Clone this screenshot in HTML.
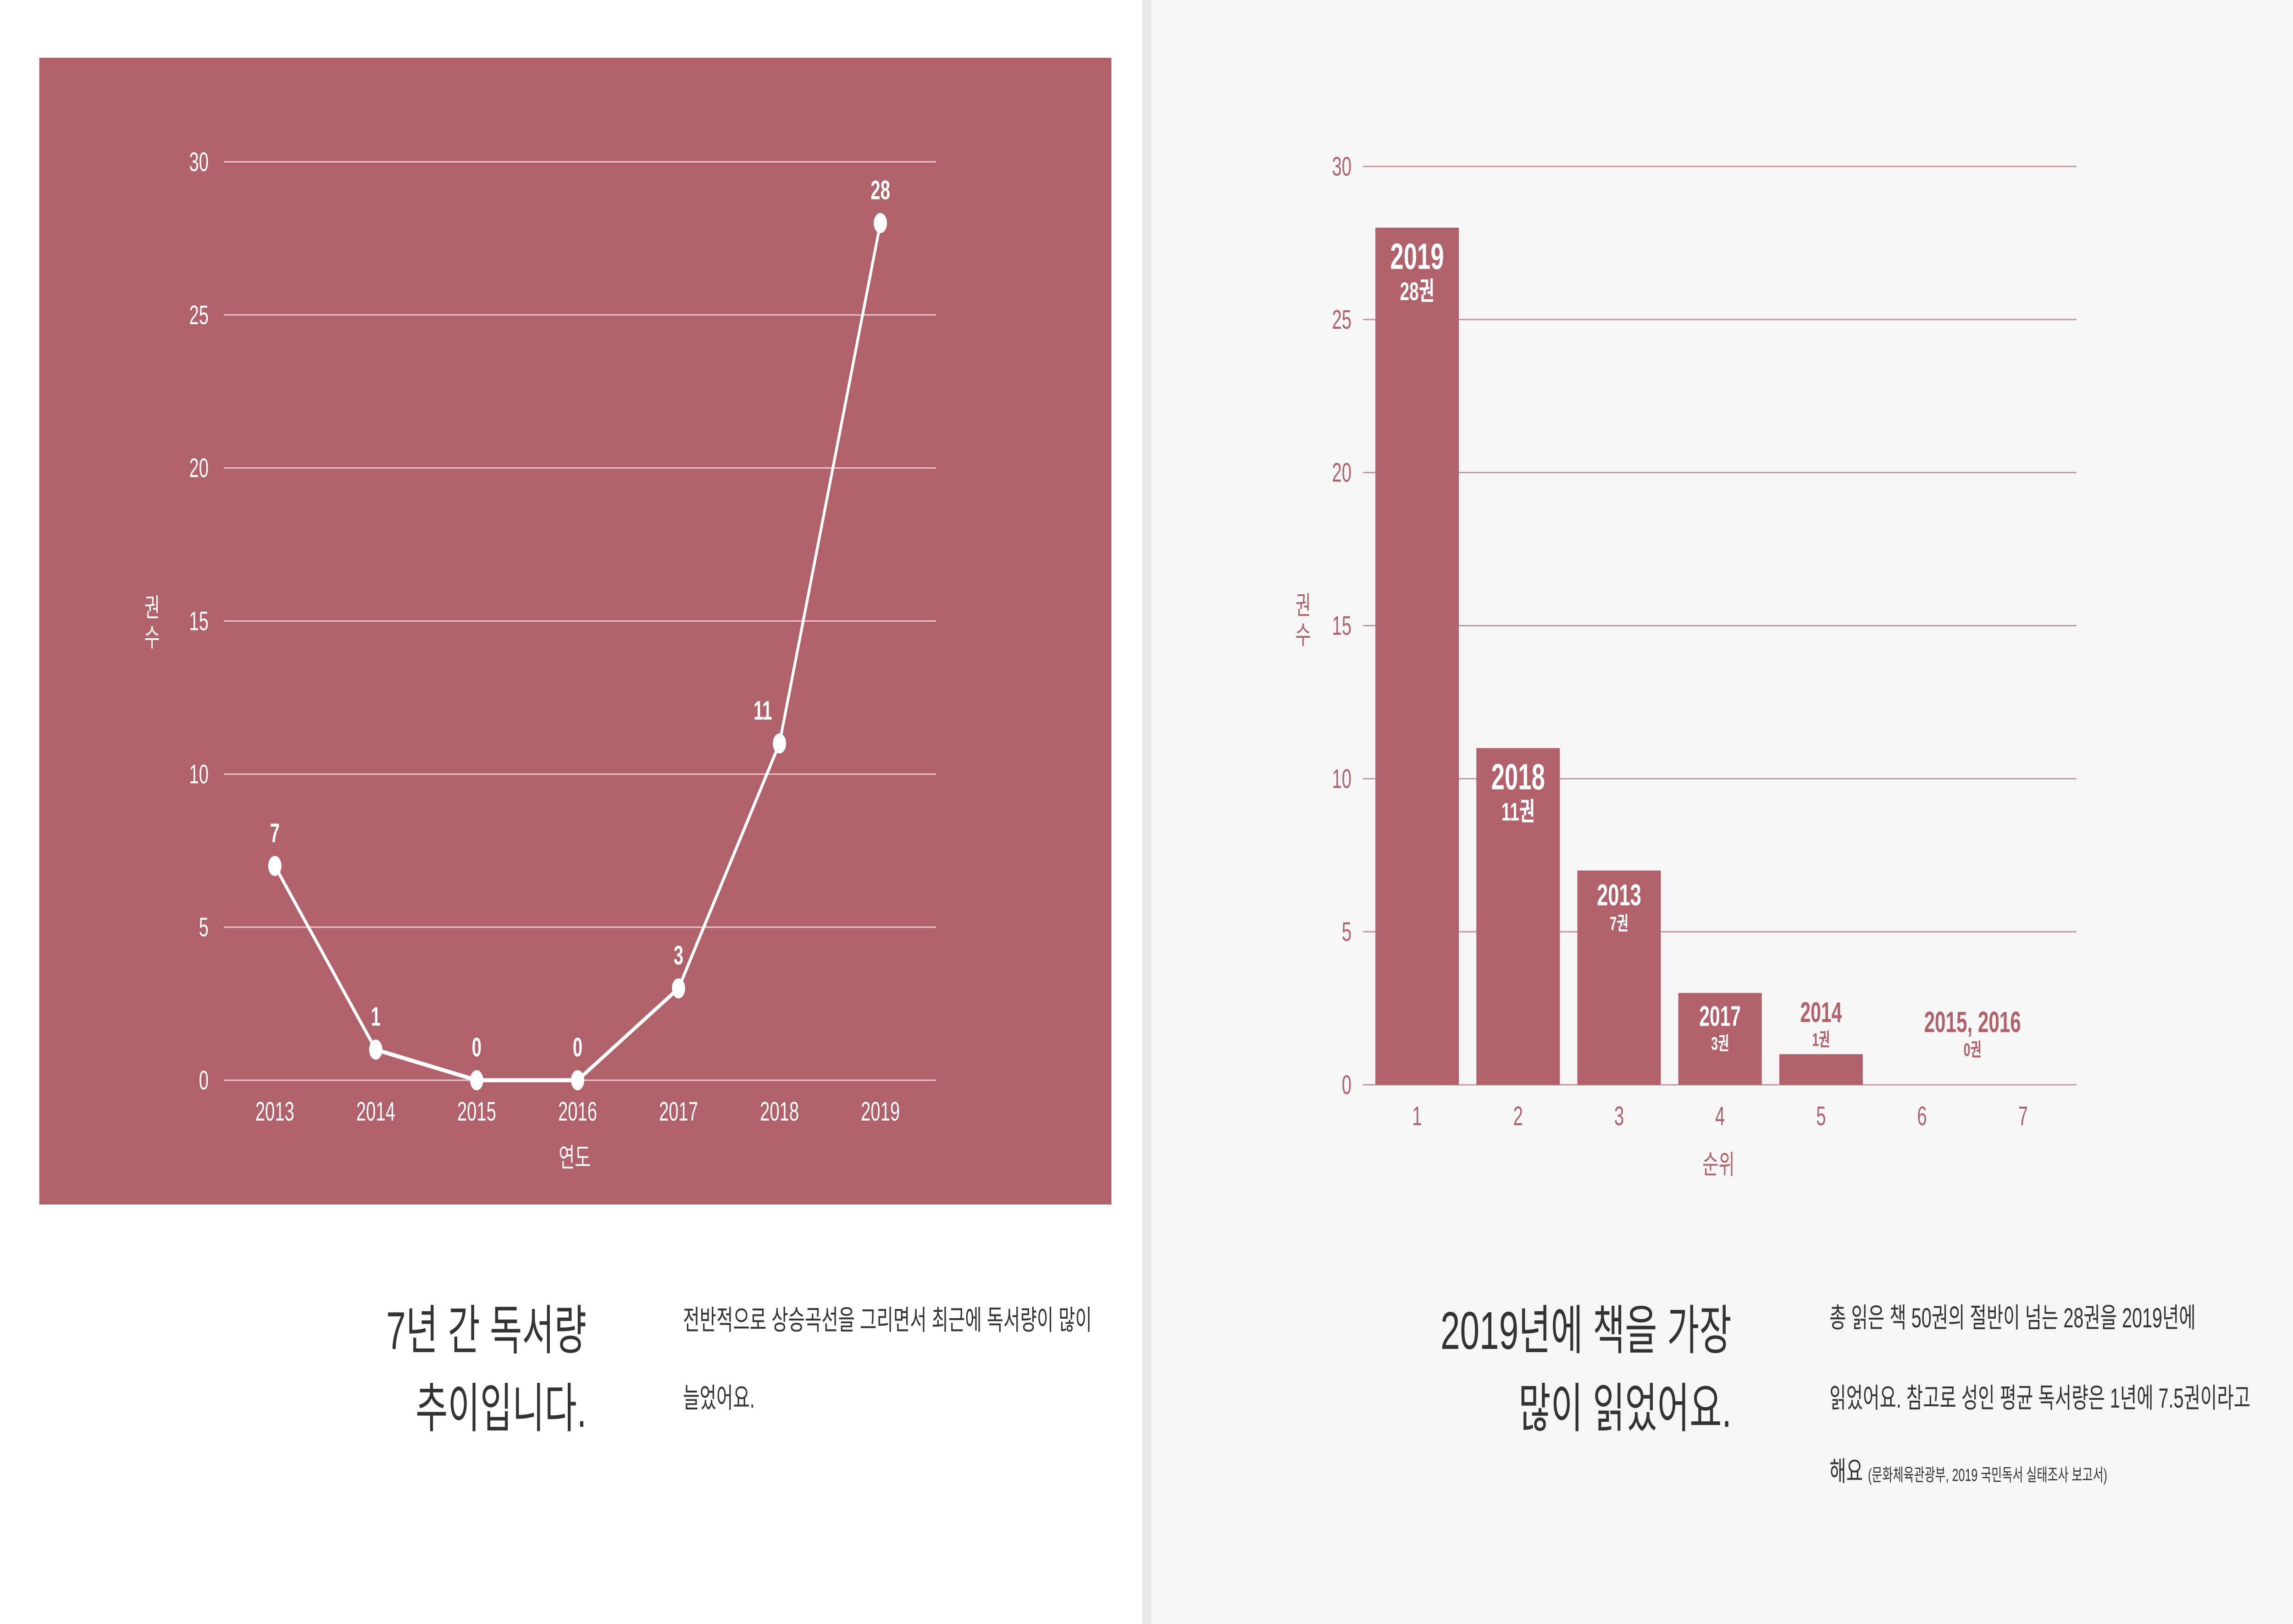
<!DOCTYPE html>
<html><head><meta charset="utf-8"><style>
html,body{margin:0;padding:0;width:100%;height:100%;overflow:hidden;background:#fff}
svg{display:block;width:100vw;height:100vh}
text{font-family:"Liberation Sans","Noto Sans CJK KR",sans-serif}
</style></head><body>
<svg id="s" viewBox="0 0 7584 3542" preserveAspectRatio="none" xmlns="http://www.w3.org/2000/svg">
<rect x="0" y="0" width="3778" height="3542" fill="#ffffff"/>
<rect x="3778" y="0" width="30" height="3542" fill="#e8e8e8"/>
<rect x="3808" y="0" width="3776" height="3542" fill="#f6f6f6"/>
<rect x="130" y="126" width="3546" height="2501" fill="#b0616a"/>
<g id="lc"></g>
<g id="bc"></g>

<g font-size="116" fill="#333" text-anchor="end">
<text x="1940" y="2942">7년 간 독서량</text>
<text x="1940" y="3112">추이입니다.</text>
</g>
<g font-size="60" fill="#333">
<text x="2259" y="2900">전반적으로 상승곡선을 그리면서 최근에 독서량이 많이</text>
<text x="2259" y="3070">늘었어요.</text>
</g>
<g font-size="116" fill="#333" text-anchor="end">
<text x="5727" y="2942">2019년에 책을 가장</text>
<text x="5727" y="3112">많이 읽었어요.</text>
</g>
<g font-size="60" fill="#333">
<text x="6051" y="2895">총 읽은 책 50권의 절반이 넘는 28권을 2019년에</text>
<text x="6051" y="3070">읽었어요. 참고로 성인 평균 독서량은 1년에 7.5권이라고</text>
<text x="6051" y="3230">해요 <tspan font-size="38">(문화체육관광부, 2019 국민독서 실태조사 보고서)</tspan></text>
</g>
</svg>
<script>
const years=['2013','2014','2015','2016','2017','2018','2019'];
const yearCounts=[7,1,0,0,3,11,28];
const yTicks=[0,5,10,15,20,25,30];
const ranks=['1','2','3','4','5','6','7'];
const rankValues=[28,11,7,3,1,0,0];
const rankYears=['2019','2018','2013','2017','2014','',''];
const NS='http://www.w3.org/2000/svg';
function mk(p,tag,a,txt){const e=document.createElementNS(NS,tag);for(const k in a)e.setAttribute(k,a[k]);if(txt!==undefined)e.textContent=txt;p.appendChild(e);return e;}
(function(){
const g=document.getElementById('lc');
const x0=909,dx=333.8,yb=2356,yt=353;
const X=i=>x0+i*dx, Y=v=>yb-(v/30)*(yb-yt);
yTicks.forEach(t=>{
 const l=mk(g,'line',{x1:740,x2:3096,y1:Y(t),y2:Y(t),stroke:'#e7c9cc','stroke-width':3});
 
 
 const tx=mk(g,'text',{x:690,y:Y(t)+20,'text-anchor':'end','font-size':58,fill:'#fff'},t);
 
 
});
years.forEach((c,i)=>{
 const tx=mk(g,'text',{x:X(i),y:2444,'text-anchor':'middle','font-size':58,fill:'#fff'},c);
 
 
});
const yl=mk(g,'text',{x:503,y:1345,'text-anchor':'middle','font-size':56,fill:'#fff'},'권');


const yl2=mk(g,'text',{x:503,y:1410,'text-anchor':'middle','font-size':56,fill:'#fff'},'수');


const xl=mk(g,'text',{x:1901,y:2545,'text-anchor':'middle','font-size':58,fill:'#fff'},'연도');


const pts=yearCounts.map((v,i)=>X(i)+','+Y(v)).join(' ');
const pl=mk(g,'polyline',{points:pts,fill:'none',stroke:'#fff','stroke-width':9});


yearCounts.forEach((v,i)=>{
 const c=mk(g,'circle',{cx:X(i),cy:Y(v),r:22,fill:'#fff'});
 
 
 const lx=i===5?X(i)-55:X(i);
 const t=mk(g,'text',{x:lx,y:Y(v)-52,'text-anchor':'middle','font-size':58,'font-weight':'bold',fill:'#fff'},String(v));
 
 
});
})();
(function(){
const g=document.getElementById('bc');
const x0=4687,dx=334,yb=2366,yt=363,bw=276,col='#b0616a';
const X=i=>x0+i*dx, Y=v=>yb-(v/30)*(yb-yt);
yTicks.forEach(t=>{
 const l=mk(g,'line',{x1:4508,x2:6868,y1:Y(t),y2:Y(t),stroke:'#c8939a','stroke-width':3});
 
 
 const tx=mk(g,'text',{x:4470,y:Y(t)+20,'text-anchor':'end','font-size':58,fill:col},t);
 
 
});
ranks.forEach((c,i)=>{
 const tx=mk(g,'text',{x:X(i),y:2454,'text-anchor':'middle','font-size':58,fill:col},c);
 
 
});
const yl=mk(g,'text',{x:4310,y:1340,'text-anchor':'middle','font-size':56,fill:col},'권');


const yl2=mk(g,'text',{x:4310,y:1405,'text-anchor':'middle','font-size':56,fill:col},'수');


const xl=mk(g,'text',{x:5684,y:2560,'text-anchor':'middle','font-size':58,fill:col},'순위');


const big=[80,80,66,62,62],small=[56,56,42,40,40];
rankValues.forEach((v,i)=>{
 if(v>0){
  const r=mk(g,'rect',{x:X(i)-bw/2,y:Y(v),width:bw,height:yb-Y(v),fill:col});
  
  
 }
 if(!rankYears[i])return;
 const inside=v>=3;
 const top=inside?Y(v)+big[i]+10:Y(v)-70;
 const fc=inside?'#fff':col;
 const t1=mk(g,'text',{x:X(i),y:top,'text-anchor':'middle','font-size':big[i],'font-weight':'bold',fill:fc},rankYears[i]);
 
 
 const t2=mk(g,'text',{x:X(i),y:top+small[i]+12,'text-anchor':'middle','font-size':small[i],'font-weight':'bold',fill:fc},v+'권');
 
 
});
const zx=(X(5)+X(6))/2;
const z1=mk(g,'text',{x:zx,y:Y(0)-115,'text-anchor':'middle','font-size':64,'font-weight':'bold',fill:col},'2015, 2016');


const z2=mk(g,'text',{x:zx,y:Y(0)-63,'text-anchor':'middle','font-size':40,'font-weight':'bold',fill:col},'0권');


})();
</script>
</body></html>
